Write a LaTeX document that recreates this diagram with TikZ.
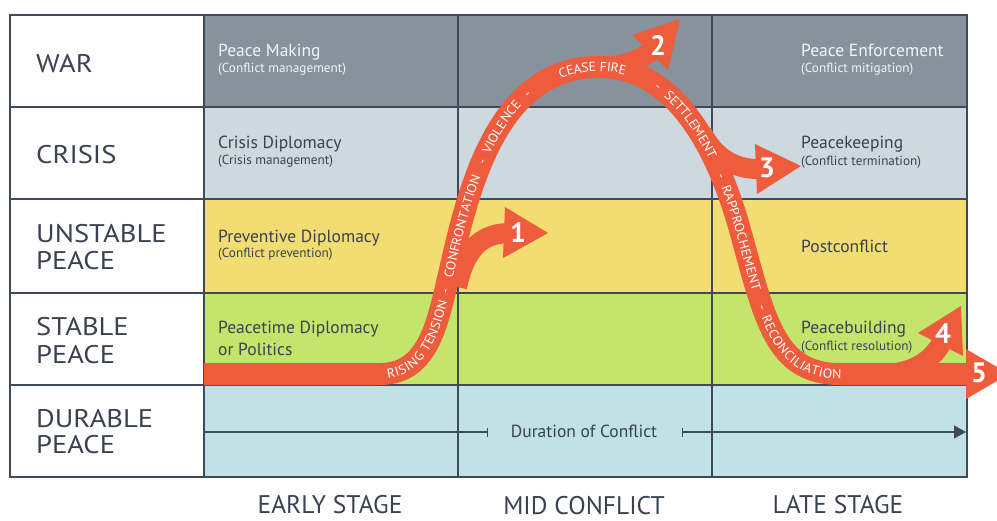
\documentclass[tikz,border=0pt]{standalone}
\usepackage{fontspec}
\setmainfont{PT Sans}
\newfontfamily\dinfont[FakeStretch=1.12]{PT Sans}
\newfontfamily\curvefam[FakeStretch=1.06]{PT Sans}
\usetikzlibrary{decorations.text,arrows.meta}
\definecolor{gridc}{HTML}{3E4A5B}
\definecolor{warc}{HTML}{86929C}
\definecolor{crisisc}{HTML}{CDD9DE}
\definecolor{unstc}{HTML}{F1DD72}
\definecolor{stabc}{HTML}{C3E56C}
\definecolor{durc}{HTML}{C0E1E6}
\definecolor{bandc}{HTML}{EF5B3D}
\definecolor{txtc}{HTML}{3A4150}
\definecolor{wtxt}{HTML}{F4F5F6}
\newcommand\mainpath{(204,374) -- (380,374) .. controls (430,374) and (438,320) .. (450,270) .. controls (470,180) and (500,70) .. (595,67) .. controls (670,64) and (715,140) .. (740,230) .. controls (765,320) and (775,374) .. (840,374) -- (968,374)}
\newcommand\curvefont{\color{white}\curvefam\fontsize{13}{13}\selectfont}
\begin{document}
\begin{tikzpicture}[x=1pt,y=-1pt,
  gridline/.style={draw=gridc, line width=2pt},
  band/.style={draw=bandc, line width=22pt},
  branch/.style={draw=bandc, line width=20pt},
  head/.style={fill=bandc},
  rowlab/.style={anchor=base west, inner sep=0pt, font=\dinfont\fontsize{25.5}{25.5}\selectfont, text=txtc},
  maintxt/.style={anchor=base west, inner sep=0pt, font=\fontsize{17.5}{17.5}\selectfont, text=txtc},
  subtxt/.style={anchor=base west, inner sep=0pt, font=\fontsize{13.2}{13.2}\selectfont, text=txtc},
  numtxt/.style={inner sep=0pt, font=\fontsize{28}{28}\selectfont\bfseries, text=white},
  stagetxt/.style={anchor=base, inner sep=0pt, font=\fontsize{25.5}{25.5}\selectfont, text=txtc},
  durline/.style={draw=gridc, line width=1.4pt},
  curvetxt/.style={decorate, decoration={text along path, raise=-4.5pt, text align={left indent=#1}}}
]
\useasboundingbox (0,0) rectangle (997,520);
\clip (0,0) rectangle (997,520);
% row fills
\fill[warc] (204,15) rectangle (967,107);
\fill[crisisc] (204,107) rectangle (967,199);
\fill[unstc] (204,199) rectangle (967,293);
\fill[stabc] (204,293) rectangle (967,385);
\fill[durc] (204,385) rectangle (967,477);
% grid
\draw[gridline] (10,15) rectangle (967,477);
\foreach \yy in {107,199,293,385} \draw[gridline] (10,\yy) -- (967,\yy);
\foreach \xx in {204,458,712} \draw[gridline] (\xx,15) -- (\xx,477);
% row labels
\node[rowlab] (lwar) at (36,72) {WAR};
\node[rowlab] (lcri) at (36,163) {CRISIS};
\node[rowlab] (lun1) at (36,242) {UNSTABLE};
\node[rowlab] (lun2) at (36,269) {PEACE};
\node[rowlab] (lst1) at (36,335) {STABLE};
\node[rowlab] (lst2) at (36,363) {PEACE};
\node[rowlab] (ldu1) at (36,427) {DURABLE};
\node[rowlab] (ldu2) at (36,453) {PEACE};
% cell texts
\node[maintxt, text=wtxt] (pm) at (218,56) {Peace Making};
\node[subtxt, text=wtxt] (pms) at (218,72) {(Conflict management)};
\node[maintxt] (cd) at (218,148) {Crisis Diplomacy};
\node[subtxt] (cds) at (218,164) {(Crisis management)};
\node[maintxt] (pd) at (218,242) {Preventive Diplomacy};
\node[subtxt] (pds) at (218,257) {(Conflict prevention)};
\node[maintxt] (ptd) at (218,333) {Peacetime Diplomacy};
\node[maintxt] (ptd2) at (218,355) {or Politics};
\node[maintxt, text=wtxt] (pe) at (801,56) {Peace Enforcement};
\node[subtxt, text=wtxt] (pes) at (801,72) {(Conflict mitigation)};
\node[maintxt] (pk) at (801,148) {Peacekeeping};
\node[subtxt] (pks) at (801,165) {(Conflict termination)};
\node[maintxt] (pc) at (801,252) {Postconflict};
\node[maintxt] (pb) at (801,333) {Peacebuilding};
\node[subtxt] (pbs) at (801,350) {(Conflict resolution)};
% duration
\node[maintxt, anchor=base, font=\fontsize{17.5}{17.5}\selectfont] (dur) at (584,437) {Duration of Conflict};
\coordinate (dL0) at (204,432);
\coordinate (dL1) at (488,432);
\coordinate (dR0) at (682,432);
\coordinate (dR1) at (966,432);
\draw[durline, -{Bar[width=9pt]}] (dL0) -- (dL1);
\draw[durline, {Bar[width=9pt]}-{Triangle[length=12pt,width=13pt]}] (dR0) -- (dR1);
% stages
\node[stagetxt] (s1) at (330,513) {EARLY STAGE};
\node[stagetxt] (s2) at (584,514) {MID CONFLICT};
\node[stagetxt] (s3) at (838,513) {LATE STAGE};
% branches
\draw[branch] (457,287) .. controls (465,250) and (480,234) .. (508,233);
\fill[head] (505,207) -- (548,233) -- (503,258) -- cycle;
\draw[branch] (596,67) .. controls (618,67) and (635,63) .. (652,51);
\fill[head] (632,35) -- (680,19) -- (668,70) -- cycle;
\draw[branch] (702,133) .. controls (715,158) and (735,169) .. (758,169);
\fill[head] (755,144) -- (801,166) -- (757,194) -- cycle;
\draw[branch] (880,374) .. controls (912,374) and (930,362) .. (941,344);
\fill[head] (918,333) -- (961,306) -- (963,356) -- cycle;
% main band
\draw[band] \mainpath;
\fill[head] (966,349) -- (1009,374) -- (966,399) -- cycle;
% curve texts
\path[curvetxt=183pt, decoration={text={|\curvefont|RISING TENSION}}] \mainpath;
\path[curvetxt=289pt, decoration={text={|\curvefont|-}}] \mainpath;
\path[curvetxt=305pt, decoration={text={|\curvefont|CONFRONTATION}}] \mainpath;
\path[curvetxt=424pt, decoration={text={|\curvefont|-}}] \mainpath;
\path[curvetxt=436pt, decoration={text={|\curvefont|VIOLENCE}}] \mainpath;
\path[curvetxt=506pt, decoration={text={|\curvefont|-}}] \mainpath;
\path[curvetxt=546pt, decoration={text={|\curvefont|CEASE FIRE}}] \mainpath;
\path[curvetxt=648pt, decoration={text={|\curvefont|-}}] \mainpath;
\path[curvetxt=661pt, decoration={text={|\curvefont|SETTLEMENT}}] \mainpath;
\path[curvetxt=759pt, decoration={text={|\curvefont|-}}] \mainpath;
\path[curvetxt=772pt, decoration={text={|\curvefont|RAPPROCHEMENT}}] \mainpath;
\path[curvetxt=897pt, decoration={text={|\curvefont|-}}] \mainpath;
\path[curvetxt=908pt, decoration={text={|\curvefont|RECONCILIATION}}] \mainpath;
% numbers
\node[numtxt] (n1) at (518,233) {1};
\node[numtxt] (n2) at (658,46) {2};
\node[numtxt] (n3) at (767,168) {3};
\node[numtxt] (n4) at (943,334) {4};
\node[numtxt] (n5) at (979,373) {5};
\end{tikzpicture}
\end{document}
